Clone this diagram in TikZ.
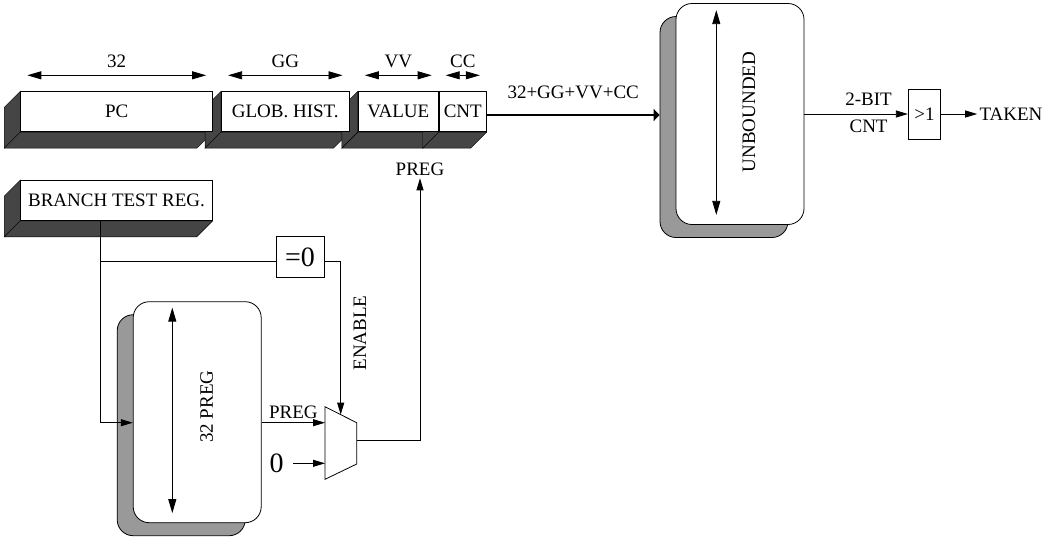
\documentclass[tikz,border=0pt]{standalone}
\usepackage{fontspec}
\setmainfont{Liberation Serif}
\usetikzlibrary{positioning,arrows.meta,calc,backgrounds}
\definecolor{regDark}{HTML}{454545}
\definecolor{shadeGray}{HTML}{999999}

\begin{document}
\begin{tikzpicture}[
  x=1pt, y=-1pt,
  font=\fontsize{19}{22}\selectfont,
  line width=0.8pt,
  reg/.style={draw, fill=white, minimum height=40pt, inner sep=2pt, align=center},
  store/.style={draw, fill=white, rounded corners=16pt, minimum width=128pt,
                minimum height=221pt, inner sep=0pt},
  storeshade/.style={store, fill=shadeGray},
  lbl/.style={inner sep=2pt},
  big/.style={inner sep=2pt, font=\fontsize{28}{30}\selectfont},
  arr/.style={-{Triangle[length=12pt,width=7pt]}},
  dimarr/.style={{Triangle[length=14pt,width=8pt]}-{Triangle[length=14pt,width=8pt]}},
  busarr/.style={-{Triangle[length=6pt,width=12pt]}, line width=2.6pt}
]
\useasboundingbox (0,0) rectangle (1046,539);

% ============ INDEX REGISTER (3D bars) ============
\node[reg, minimum width=192pt] (pc) at (116.7,111.7) {PC};
\node[reg, minimum width=127.6pt, right=8pt of pc] (gh) {GLOB. HIST.};
\node[reg, minimum width=80pt, right=8.4pt of gh] (val) {VALUE};
\node[reg, minimum width=47.3pt, right=0pt of val] (cnt) {CNT};
\node[reg, minimum width=191.6pt] (btr) at (116.5,200.4) {BRANCH TEST REG.};

\begin{scope}[on background layer]
\foreach \r in {pc,gh,val,cnt,btr} {
  \filldraw[fill=regDark] (\r.north west) -- ++(-16,16) -- ($(\r.south west)+(-16,16)$)
    -- (\r.south west) -- cycle;
  \filldraw[fill=regDark] (\r.south west) -- ++(-16,16) -- ($(\r.south east)+(-16,16)$)
    -- (\r.south east) -- cycle;
}
\end{scope}

% field widths
\foreach \r/\w in {pc/32, gh/GG, val/VV, cnt/CC}
  \draw[dimarr] ([shift={(7,-16)}]\r.north west) -- ([shift={(-7,-16)}]\r.north east)
    node[lbl, midway, above=5pt] {\w};

% ============ PREDICTOR TABLE ============
\node[storeshade] (ubs) at (724,127) {};
\node[store] (ub) at (740,114) {};
\draw[dimarr] ([shift={(40.7,7)}]ub.north west) -- ([shift={(40.7,-10)}]ub.south west);
\node[lbl, rotate=90] (ubtxt) at (749,112) {UNBOUNDED};

\coordinate (busin) at ([yshift=-3.3pt]cnt.east);
\draw[busarr] (busin) -- (busin -| ubs.west)
  node[lbl, midway, above=13pt] {32+GG+VV+CC};

% ============ OUTPUT ============
\node[draw, minimum width=32.5pt, minimum height=50pt, inner sep=2pt, right=103.5pt of ub] (gt) {>1};
\node[lbl, right=36pt of gt] (taken) {TAKEN};
\draw[arr] (ub.east) -- (gt.west)
  node[lbl, pos=0.62, above=6pt] {2-BIT}
  node[lbl, pos=0.62, below=4pt] {CNT};
\draw[arr] (gt.east) -- (taken.west);

% ============ PREG FILE ============
\node[storeshade] (pregs) at (181.2,425.2) {};
\node[store] (preg) at (197.2,412.2) {};
\draw[dimarr] ([shift={(39.5,6.3)}]preg.north west) -- ([shift={(39.5,-10)}]preg.south west);
\node[lbl, rotate=90] (pregtxt) at (206.7,406.7) {32 PREG};

\coordinate (btap) at ($(btr.south)+(-15.8,0)$);
\draw[arr] (btap) |- ([yshift=-10.5pt]preg.west);

% zero test
\node[draw, big, minimum width=48pt, minimum height=40.6pt] (eqz) at (300,257) {=0};
\coordinate (brk) at ($(eqz.west)+(0,4.7)$);
\draw (btap |- brk) -- (brk);

% ============ MUX ============
\coordinate (mux) at (325,406.7);
\draw (mux) -- ++(31.7,16) -- ++(0,41.3) -- ++(-31.7,15.3) -- cycle;
\coordinate (muxa) at ($(mux)+(0,16)$);
\coordinate (muxen) at ($(mux)+(15.7,7.9)$);
\coordinate (muxout) at ($(mux)+(31.7,33.3)$);

\draw[arr] (eqz.east |- brk) -| (muxen);
\node[lbl, rotate=90] (enlbl) at (360,333) {ENABLE};

\draw[arr] ([yshift=-10.5pt]preg.east) -- (muxa) node[lbl, midway, above=2pt] {PREG};
\node[big] (zero) at (276.7,463.3) {0};
\draw[arr] ([xshift=7pt]zero.east) -- (zero.east -| mux);

\node[lbl] (pregout) at (420,169.5) {PREG};
\draw[arr] (muxout) -| (pregout.south);

\end{tikzpicture}
\end{document}
